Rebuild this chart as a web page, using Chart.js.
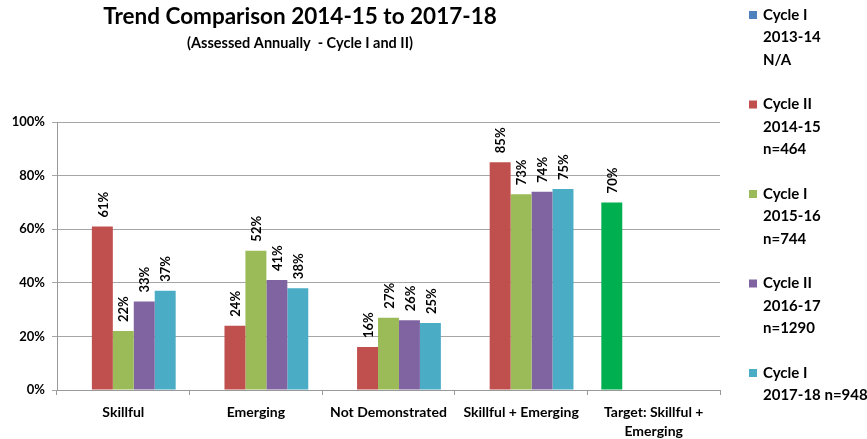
<!DOCTYPE html>
<html><head><meta charset="utf-8">
<script src="https://cdn.jsdelivr.net/npm/chart.js@4.4.1/dist/chart.umd.min.js"></script>
<style>html,body{margin:0;padding:0;background:#fff}#wrap{width:867px;height:439px;position:relative}</style>
</head><body><div id="wrap"><canvas id="c" width="867" height="439"></canvas></div>
<script>
const categories = ['Skillful', 'Emerging', 'Not Demonstrated', 'Skillful + Emerging', ['Target: Skillful +', 'Emerging']];
const seriesLabels = [
  ['Cycle I', '2013-14', 'N/A'],
  ['Cycle II', '2014-15', 'n=464'],
  ['Cycle I', '2015-16', 'n=744'],
  ['Cycle II', '2016-17', 'n=1290'],
  ['Cycle I', '2017-18 n=948']
];
const cycleI_2013_14 = [null, null, null, null, 70];
const cycleII_2014_15 = [61, 24, 16, 85, null];
const cycleI_2015_16 = [22, 52, 27, 73, null];
const cycleII_2016_17 = [33, 41, 26, 74, null];
const cycleI_2017_18 = [37, 38, 25, 75, null];
const yTicks = [0, 20, 40, 60, 80, 100];
const titleText = 'Trend Comparison 2014-15 to 2017-18';
const subtitleText = '(Assessed Annually  - Cycle I and II)';

const seriesColors = ['#4F81BD', '#C0504D', '#9BBB59', '#8064A2', '#4BACC6'];
const targetColor = '#00B050';
const FONT = 'Lato, "Open Sans", sans-serif';

const seriesData = [cycleI_2013_14, cycleII_2014_15, cycleI_2015_16, cycleII_2016_17, cycleI_2017_18];
const datasets = seriesData.map((d, i) => ({
  label: seriesLabels[i].join(' '),
  data: d,
  backgroundColor: i === 0 ? (c => c.dataIndex === 4 ? targetColor : seriesColors[0]) : seriesColors[i],
  borderWidth: 0,
  categoryPercentage: 0.79,
  barPercentage: 1
}));

const decor = {
  id: 'decor',
  afterDatasetsDraw(chart) {
    const ctx = chart.ctx;
    ctx.save();
    ctx.fillStyle = '#000';
    ctx.font = 'bold 13px ' + FONT;
    ctx.textAlign = 'left';
    ctx.textBaseline = 'middle';
    chart.data.datasets.forEach((ds, di) => {
      const meta = chart.getDatasetMeta(di);
      meta.data.forEach((el, i) => {
        const v = ds.data[i];
        if (v === null || v === undefined) return;
        ctx.save();
        ctx.translate(el.x + 1, el.y - 9);
        ctx.rotate(-Math.PI / 2);
        ctx.fillText(v + '%', 0, 0);
        ctx.restore();
      });
    });
    ctx.restore();
  },
  afterDraw(chart) {
    const ctx = chart.ctx;
    ctx.save();
    ctx.fillStyle = '#000';
    ctx.textAlign = 'center';
    ctx.textBaseline = 'middle';
    ctx.font = 'bold 22.5px ' + FONT;
    ctx.fillText(titleText, 300, 17);
    ctx.font = 'bold 14.5px ' + FONT;
    ctx.fillText(subtitleText, 300, 43);
    // legend
    ctx.textAlign = 'left';
    ctx.font = 'bold 15px ' + FONT;
    let y = 15;
    seriesLabels.forEach((lines, i) => {
      ctx.fillStyle = seriesColors[i];
      ctx.fillRect(749, y - 4, 8, 8);
      ctx.fillStyle = '#000';
      lines.forEach((t, k) => ctx.fillText(t, 763, y + k * 22.5));
      y += 89.5;
    });
    ctx.restore();
  }
};

new Chart(document.getElementById('c'), {
  type: 'bar',
  data: { labels: categories, datasets },
  plugins: [decor],
  options: {
    responsive: false,
    animation: false,
    layout: { padding: { top: 122, right: 147, bottom: 0, left: 0 } },
    plugins: { legend: { display: false }, title: { display: false }, tooltip: { enabled: false } },
    scales: {
      x: {
        grid: { drawOnChartArea: false, drawTicks: true, tickLength: 5, color: '#999', offset: true },
        border: { color: '#999' },
        ticks: { color: '#000', font: { family: FONT, size: 14, weight: 'bold', lineHeight: 1.35 }, padding: 8, maxRotation: 0, autoSkip: false },
        afterFit(s) { s.height = 49; }
      },
      y: {
        min: 0, max: 100,
        afterBuildTicks(s) { s.ticks = yTicks.map(v => ({ value: v })); },
        ticks: { callback: v => v + '%', color: '#000', font: { family: FONT, size: 13, weight: 'bold' }, padding: 7 },
        grid: { color: '#a6a6a6', tickLength: 5 },
        border: { color: '#999' },
        afterFit(s) { s.width = 57; }
      }
    }
  }
});
</script></body></html>
